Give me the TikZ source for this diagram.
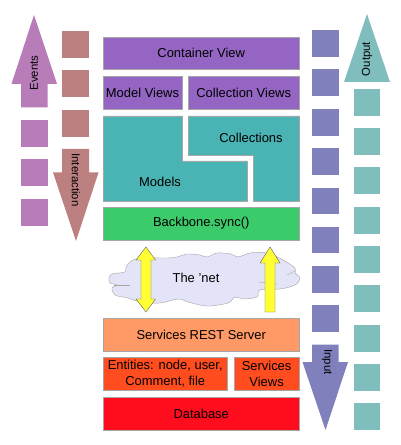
\documentclass[tikz,border=0pt]{standalone}
\usepackage{fontspec}
\setmainfont{Liberation Sans}
\usepackage{xcolor}
\usepackage{tikz}
\definecolor{viewpurple}{HTML}{9565C4}
\definecolor{modelteal}{HTML}{4AB3B3}
\definecolor{syncgreen}{HTML}{3CCB6B}
\definecolor{restorange}{HTML}{FF9966}
\definecolor{entityred}{HTML}{FF4D1F}
\definecolor{dbred}{HTML}{FF0D1C}
\definecolor{eventpink}{HTML}{B87DB8}
\definecolor{actionbrown}{HTML}{BD8080}
\definecolor{inputblue}{HTML}{8080BD}
\definecolor{outputteal}{HTML}{80BDBD}
\definecolor{cloudfill}{HTML}{E4E4F8}
\definecolor{yellowfill}{HTML}{FFFF33}
\begin{document}
\begin{tikzpicture}[x=0.025cm,y=-0.025cm,
          layer/.style={draw=gray!70,line width=0.3pt,inner sep=0pt,align=center,font=\fontsize{9.2}{11.2}\selectfont},
          label/.style={inner sep=0pt,font=\fontsize{8.1}{10}\selectfont},
          wire/.style={draw=gray!70,line width=0.3pt},
          yarrow/.style={draw=gray!80!black,line width=0.3pt,fill=yellowfill}]
        \useasboundingbox (0,0) rectangle (400,445);
        % stack in the middle
        \node[layer,fill=viewpurple,minimum width=4.91cm,minimum height=0.82cm] (container) at (201.2,53.3) {Container View};
        \node[layer,fill=viewpurple,minimum width=1.97cm,minimum height=0.82cm] (modelviews) at (142.5,92.5) {Model Views};
        \node[layer,fill=viewpurple,minimum width=2.79cm,minimum height=0.82cm] (collviews) at (243.7,92.5) {Collection Views};
        \draw[wire,fill=modelteal] (103,116)--(182,116)--(182,161)--(247.5,161)--(247.5,201)--(103,201)--cycle;
        \draw[wire,fill=modelteal] (188,116)--(299.5,116)--(299.5,201)--(253.5,201)--(253.5,155.5)--(188,155.5)--cycle;
        \node[label,font=\fontsize{9.2}{12.5}\selectfont] (models) at (160,182) {Models};
        \node[label,font=\fontsize{9.2}{12.5}\selectfont] (collections) at (251,138) {Collections};
        \node[layer,fill=syncgreen,minimum width=4.91cm,minimum height=0.82cm] (sync) at (201.2,223.5) {Backbone.sync()};
        % cloud
        \draw[wire,fill=cloudfill] plot[smooth cycle,tension=0.55] coordinates {(109,278) (112,274) (125,272) (126,267) (133,260)
            (147,258) (167,258) (177,257) (187,254) (200,255) (207,257) (217,253) (231,254) (238,257) (250,253) (267,253)
            (283,260) (295,268) (295,273) (300,278) (295,285) (280,289) (260,290) (257,297) (243,299) (235,297) (228,303)
            (210,306) (200,305) (188,302) (178,299) (160,303) (140,302) (128,298) (115,295) (112,288) (117,285) (110,283)};
        \draw[wire] (114,285)--(130,285);
        \draw[wire] (287,275)--(295,271);
        \draw[wire] (259,282)--(277,284);
        \node[label,font=\fontsize{9.2}{12.5}\selectfont] (net) at (196,278) {The 'net};
        \draw[yarrow] (146,247)--(155.5,260)--(151,260)--(151,299)--(155.5,299)--(146,312)--(136,299)--(141,299)--(141,260)--(136,260)--cycle;
        \draw[yarrow] (270,247)--(280,263)--(275,263)--(275,312)--(265,312)--(265,263)--(260,263)--cycle;
        \node[layer,fill=restorange,minimum width=4.91cm,minimum height=0.82cm] (rest) at (201.2,334.7) {Services REST Server};
        \node[layer,fill=entityred,minimum width=3.11cm,minimum height=0.82cm] (entities) at (165.2,374) {Entities: node, user,\\Comment, file};
        \node[layer,fill=entityred,minimum width=1.64cm,minimum height=0.82cm] (svcviews) at (266.6,374) {Services\\Views};
        \node[layer,fill=dbred,minimum width=4.91cm,minimum height=0.82cm] (db) at (201.2,413.5) {Database};
        % events, going up
        \fill[eventpink] (34,15)--(57,84)--(47.7,84)--(47.7,107.5)--(21,107.5)--(21,84)--(11.5,84)--cycle;
        \foreach \y in {120.5,159.5,199} \fill[eventpink] (21,\y) rectangle +(26.7,26.5);
        \node[label,rotate=90] (events) at (34,73) {Events};
        % interaction, going down
        \foreach \y in {31,70.5,110} \fill[actionbrown] (62,\y) rectangle +(27,26.7);
        \fill[actionbrown] (62,149)--(89,149)--(89,172.5)--(98.5,172.5)--(76,241)--(53,172.5)--(62,172.5)--cycle;
        \node[label,rotate=-90] (interaction) at (76,180) {Interaction};
        % input, going down
        \foreach \y in {30,69.5,109,148,187.5,226.5,266,305} \fill[inputblue] (312,\y) rectangle +(26.6,26.7);
        \fill[inputblue] (312,344.5)--(338.6,344.5)--(338.6,362)--(348,362)--(325.5,430)--(302.5,362)--(312,362)--cycle;
        \node[label,rotate=-90] (input) at (327,362) {Input};
        % output, going up
        \foreach \y in {89,128,167.5,207,246,285,325,364,403} \fill[outputteal] (353.5,\y) rectangle +(26.7,26.7);
        \fill[outputteal] (367,14)--(390,82)--(344,82)--cycle;
        \node[label,rotate=90] (output) at (367,59) {Output};
      \end{tikzpicture}
\end{document}
